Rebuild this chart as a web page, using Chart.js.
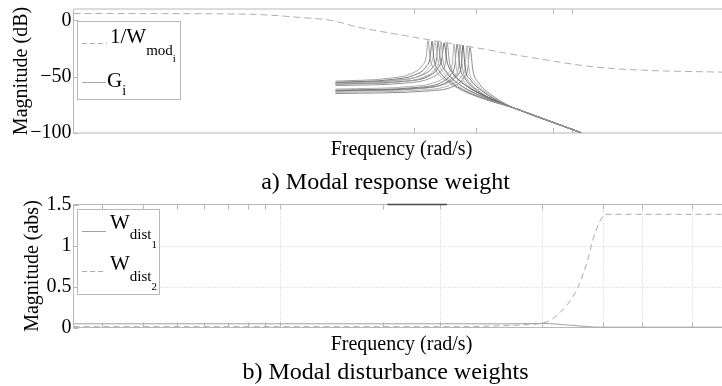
<!DOCTYPE html>
<html lang="en">
<head>
<meta charset="UTF-8">
<title>Modal weights</title>
<script src="https://cdn.jsdelivr.net/npm/chart.js"></script>
<style>
    body { margin: 0; background: #fff; width: 722px; height: 386px; overflow: hidden; }
    canvas { position: absolute; left: 0; }
    #c1 { top: 0; }
    #c2 { top: 196px; }
</style>
</head>
<body>
<canvas id="c1" width="722" height="196"></canvas>
<canvas id="c2" width="722" height="190"></canvas>
<script>
// x is log10 of frequency (rad/s), the axis shows no numbers
const wModX = [0, 1.0, 1.44, 1.75, 1.98, 2.21, 2.5, 2.75, 3.11, 3.5, 4.01, 4.39, 5.0]
const wModY = [6, 5.8, 5, 2.5, 0, -6.5, -12.5, -17.5, -24.5, -32.5, -41.3, -44.3, -46]

// one row per mode G_i
const gX = [
    [2.02, 2.43, 2.60, 2.69, 2.72, 2.733, 2.75, 2.79, 2.89, 3.05, 3.40, 3.92],
    [2.02, 2.46, 2.63, 2.72, 2.75, 2.764, 2.78, 2.82, 2.92, 3.08, 3.40, 3.92],
    [2.02, 2.49, 2.66, 2.74, 2.77, 2.787, 2.81, 2.85, 2.95, 3.11, 3.40, 3.92],
    [2.02, 2.51, 2.68, 2.77, 2.80, 2.81, 2.83, 2.87, 2.97, 3.13, 3.40, 3.92],
    [2.02, 2.53, 2.70, 2.79, 2.82, 2.834, 2.85, 2.89, 2.99, 3.15, 3.40, 3.92],
    [2.02, 2.56, 2.73, 2.81, 2.84, 2.857, 2.88, 2.92, 3.02, 3.18, 3.40, 3.92],
    [2.02, 2.58, 2.75, 2.84, 2.87, 2.88, 2.90, 2.94, 3.04, 3.20, 3.40, 3.92],
    [2.02, 2.63, 2.80, 2.89, 2.92, 2.934, 2.95, 2.99, 3.09, 3.25, 3.40, 3.92],
    [2.02, 2.66, 2.83, 2.91, 2.94, 2.957, 2.98, 3.02, 3.12, 3.28, 3.40, 3.92],
    [2.02, 2.68, 2.85, 2.94, 2.97, 2.98, 3.00, 3.04, 3.14, 3.30, 3.40, 3.92],
    [2.02, 2.70, 2.87, 2.96, 2.99, 3.003, 3.02, 3.06, 3.16, 3.32, 3.40, 3.92],
    [2.02, 2.73, 2.90, 2.99, 3.02, 3.034, 3.05, 3.09, 3.19, 3.35, 3.40, 3.92],
    [2.02, 2.76, 2.93, 3.01, 3.04, 3.057, 3.08, 3.12, 3.22, 3.37, 3.40, 3.92]
]
const gY = [
    [-54, -51.5, -47.5, -40, -32, -18, -34, -44, -55, -65, -78, -100],
    [-55, -52.5, -48.5, -41, -33, -18.5, -35, -45, -56, -66, -78, -100],
    [-56, -53.5, -49.5, -42, -34, -19, -36, -46, -57, -67, -78, -100],
    [-55.5, -53, -49, -41.5, -33.5, -19, -35.5, -45.5, -56.5, -66.5, -78, -100],
    [-57, -54.5, -50.5, -43, -35, -19.5, -37, -47, -58, -68, -78, -100],
    [-56.5, -54, -50, -42.5, -34.5, -20, -36.5, -46.5, -57.5, -67.5, -78, -100],
    [-58, -55.5, -51.5, -44, -36, -20, -38, -48, -59, -69, -78, -100],
    [-61, -58.5, -54.5, -47, -39, -21, -41, -51, -62, -72, -78, -100],
    [-62, -59.5, -55.5, -48, -40, -21.5, -42, -52, -63, -73, -78, -100],
    [-63, -60.5, -56.5, -49, -41, -22, -43, -53, -64, -74, -78, -100],
    [-62.5, -60, -56, -48.5, -40.5, -22, -42.5, -52.5, -63.5, -74.5, -78, -100],
    [-64, -61.5, -57.5, -50, -42, -23, -44, -54, -65, -75.5, -78, -100],
    [-65, -62.5, -58.5, -51, -43, -24, -45, -55, -66, -76.5, -78, -100]
]

const wd1X = [0, 3.40, 3.62, 3.85, 4.06, 5.0]
const wd1Y = [0.045, 0.045, 0.05, 0.025, 0.004, 0.004]
const wd2X = [0, 3.0, 3.25, 3.44, 3.65, 3.75, 3.88, 3.96, 4.005, 4.06, 4.10, 5.0]
const wd2Y = [0.01, 0.01, 0.02, 0.03, 0.07, 0.18, 0.46, 0.80, 1.07, 1.30, 1.38, 1.38]
const clipX = [2.42, 2.88]
const clipY = [1.5, 1.5]

const topYTicks = [-100, -50, 0]
const topXTicks = [2.625, 3.103, 3.697, 3.843]
const botYTicks = [0, 0.5, 1, 1.5]
const botXTicks = [0.220, 0.536, 0.798, 1.006, 1.191, 1.345, 1.476, 1.592, 2.386, 2.826, 3.613, 4.083, 4.384, 4.769]
const botXGrid = [1.592, 2.826, 3.613, 4.083, 4.384, 4.769]
const botYGrid = [0.5, 1]

const serif = '"Liberation Serif", "Times New Roman", serif'
const gCores = ['#9a9a9a', '#6a6a6a', '#b2b2b2', '#7c7c7c', '#a4a4a4', '#5e5e5e', '#8e8e8e',
                '#a8a8a8', '#707070', '#999999', '#5a5a5a', '#b0b0b0', '#808080']

function pontos(xs, ys) {
    return xs.map((x, i) => ({ x: x, y: ys[i] }))
}

// frame with ticks pointing inwards, plus dotted grid
const framePlugin = {
    id: 'frame',
    beforeDatasetsDraw(chart, args, o) {
        const { ctx, chartArea: a, scales: { x, y } } = chart
        ctx.save()
        ctx.strokeStyle = '#cfcfcf'
        ctx.lineWidth = 1
        ctx.setLineDash([1, 2])
        ctx.beginPath()
        ;(o.xGrid || []).forEach(v => {
            const px = Math.round(x.getPixelForValue(v)) + 0.5
            ctx.moveTo(px, a.top); ctx.lineTo(px, a.bottom)
        })
        ;(o.yGrid || []).forEach(v => {
            const py = Math.round(y.getPixelForValue(v)) + 0.5
            ctx.moveTo(a.left, py); ctx.lineTo(a.right, py)
        })
        ctx.stroke()
        ctx.setLineDash([])

        ctx.strokeStyle = '#b8b8b8'
        ctx.beginPath()
        ctx.moveTo(a.left, a.top); ctx.lineTo(a.right, a.top)
        ctx.moveTo(a.left, a.top); ctx.lineTo(a.left, a.bottom)
        ctx.moveTo(a.left, a.bottom); ctx.lineTo(a.right, a.bottom)
        o.xTicks.forEach(v => {
            const px = Math.round(x.getPixelForValue(v)) + 0.5
            ctx.moveTo(px, a.top); ctx.lineTo(px, a.top + 5)
            ctx.moveTo(px, a.bottom); ctx.lineTo(px, a.bottom - 5)
        })
        o.yTicks.forEach(v => {
            const py = Math.round(y.getPixelForValue(v)) + 0.5
            ctx.moveTo(a.left, py); ctx.lineTo(a.left + 5, py)
        })
        ctx.stroke()
        ctx.restore()
    }
}

// boxed legend with subscripts
const caixaLegenda = {
    id: 'caixaLegenda',
    afterDatasetsDraw(chart, args, o) {
        const ctx = chart.ctx
        ctx.save()
        ctx.fillStyle = '#fff'
        ctx.strokeStyle = '#b8b8b8'
        ctx.lineWidth = 1
        ctx.fillRect(o.box[0], o.box[1], o.box[2], o.box[3])
        ctx.strokeRect(o.box[0], o.box[1], o.box[2], o.box[3])
        o.items.forEach(it => {
            ctx.beginPath()
            ctx.setLineDash(it.dash)
            ctx.strokeStyle = it.cor
            ctx.moveTo(it.x0, it.ly); ctx.lineTo(it.x1, it.ly)
            ctx.stroke()
            ctx.setLineDash([])
            ctx.fillStyle = '#000'
            ctx.textBaseline = 'alphabetic'
            ctx.textAlign = 'left'
            let x = it.tx
            it.partes.forEach(p => {
                ctx.font = p[1] + 'px ' + serif
                ctx.fillText(p[0], x, p[2])
                x += ctx.measureText(p[0]).width
            })
        })
        ctx.restore()
    }
}

// x label and sub-figure caption under each plot
const legendas = {
    id: 'legendas',
    afterDraw(chart, args, o) {
        const ctx = chart.ctx
        ctx.save()
        ctx.fillStyle = '#000'
        ctx.textAlign = 'center'
        ctx.textBaseline = 'middle'
        o.textos.forEach(t => {
            ctx.font = t.size + 'px ' + serif
            ctx.fillText(t.txt, t.x, t.y)
        })
        ctx.restore()
    }
}

function fixY(w) {
    return function (scale) { scale.width = w; scale.paddingTop = 0; scale.paddingBottom = 0 }
}
function fixX(h) {
    return function (scale) { scale.height = h; scale.paddingLeft = 0; scale.paddingRight = 0 }
}
function rotuloY(v) {
    return v < 0 ? '\u2212' + Math.abs(v) : String(v)
}

const gDatasets = gX.map((xs, i) => ({
    data: pontos(xs, gY[i]),
    borderColor: gCores[i],
    borderWidth: 0.9,
    cubicInterpolationMode: 'monotone'
}))

const chart1 = new Chart(document.getElementById('c1'), {
    type: 'line',
    data: {
        datasets: [{
            data: pontos(wModX, wModY),
            borderColor: '#b0b0b0',
            borderWidth: 1,
            borderDash: [7, 4],
            cubicInterpolationMode: 'monotone'
        }].concat(gDatasets)
    },
    options: {
        responsive: false,
        animation: false,
        layout: { autoPadding: false, padding: { top: 9, left: 0, right: 0, bottom: 63 } },
        elements: { point: { radius: 0 } },
        plugins: {
            legend: { display: false },
            tooltip: { enabled: false },
            frame: { xTicks: topXTicks, yTicks: topYTicks },
            caixaLegenda: {
                box: [77.5, 21.5, 103, 78],
                items: [
                    { x0: 82, x1: 107, ly: 43.5, dash: [5, 3], cor: '#b0b0b0', tx: 110,
                      partes: [['1/W', 21, 43], ['mod', 15, 55], ['i', 11, 62]] },
                    { x0: 82, x1: 106, ly: 82.5, dash: [], cor: '#aaaaaa', tx: 107,
                      partes: [['G', 21, 87], ['i', 14, 95]] }
                ]
            },
            legendas: {
                textos: [
                    { txt: 'Frequency (rad/s)', size: 20, x: 401.5, y: 150 },
                    { txt: 'a) Modal response weight', size: 24, x: 385.5, y: 182.5 }
                ]
            }
        },
        scales: {
            x: {
                type: 'linear', min: 0, max: 5,
                ticks: { display: false },
                grid: { display: false, drawTicks: false },
                border: { display: false },
                afterFit: fixX(0)
            },
            y: {
                min: -100, max: 10,
                afterBuildTicks: s => { s.ticks = topYTicks.map(v => ({ value: v })) },
                ticks: { color: '#000', font: { family: serif, size: 20 }, padding: 2, callback: rotuloY },
                grid: { display: false, drawTicks: false },
                border: { display: false },
                title: { display: true, text: 'Magnitude (dB)', color: '#000',
                         font: { family: serif, size: 20 }, padding: { top: 10, bottom: 0 } },
                afterFit: fixY(73.5)
            }
        }
    },
    plugins: [framePlugin, caixaLegenda, legendas]
})

const chart2 = new Chart(document.getElementById('c2'), {
    type: 'line',
    data: {
        datasets: [
            { data: pontos(wd1X, wd1Y), borderColor: '#a0a0a0', borderWidth: 1, cubicInterpolationMode: 'monotone' },
            { data: pontos(wd2X, wd2Y), borderColor: '#aaaaaa', borderWidth: 1, borderDash: [6, 4], cubicInterpolationMode: 'monotone' },
            { data: pontos(clipX, clipY), borderColor: '#4a4a4a', borderWidth: 1.5, clip: 3 }
        ]
    },
    options: {
        responsive: false,
        animation: false,
        layout: { autoPadding: false, padding: { top: 8.5, left: 0, right: 0, bottom: 58.5 } },
        elements: { point: { radius: 0 } },
        plugins: {
            legend: { display: false },
            tooltip: { enabled: false },
            frame: { xTicks: botXTicks, yTicks: botYTicks, xGrid: botXGrid, yGrid: botYGrid },
            caixaLegenda: {
                box: [77.5, 13.5, 82, 85],
                items: [
                    { x0: 82, x1: 106, ly: 35.5, dash: [], cor: '#a0a0a0', tx: 110,
                      partes: [['W', 21, 33.3], ['dist', 15, 43.3], ['1', 11, 52]] },
                    { x0: 82, x1: 106, ly: 75.5, dash: [5, 3], cor: '#aaaaaa', tx: 110,
                      partes: [['W', 21, 74], ['dist', 15, 84.7], ['2', 11, 94]] }
                ]
            },
            legendas: {
                textos: [
                    { txt: 'Frequency (rad/s)', size: 20, x: 401.5, y: 149 },
                    { txt: 'b) Modal disturbance weights', size: 24, x: 385.5, y: 176.3 }
                ]
            }
        },
        scales: {
            x: {
                type: 'linear', min: 0, max: 5,
                ticks: { display: false },
                grid: { display: false, drawTicks: false },
                border: { display: false },
                afterFit: fixX(0)
            },
            y: {
                min: 0, max: 1.5,
                afterBuildTicks: s => { s.ticks = botYTicks.map(v => ({ value: v })) },
                ticks: { color: '#000', font: { family: serif, size: 20 }, padding: 2, callback: rotuloY },
                grid: { display: false, drawTicks: false },
                border: { display: false },
                title: { display: true, text: 'Magnitude (abs)', color: '#000',
                         font: { family: serif, size: 20 }, padding: { top: 21, bottom: 0 } },
                afterFit: fixY(73.5)
            }
        }
    },
    plugins: [framePlugin, caixaLegenda, legendas]
})
</script>
</body>
</html>
